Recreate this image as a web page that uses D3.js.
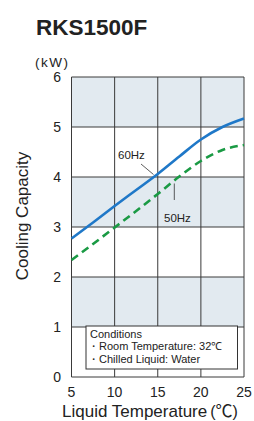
<!DOCTYPE html>
<html><head><meta charset="utf-8">
<script src="https://cdn.jsdelivr.net/npm/d3@7/dist/d3.min.js"></script>
<style>body{margin:0;background:#fff}svg{display:block}</style>
</head><body><svg id="c" width="254" height="421"></svg>
<script>
const title = "RKS1500F";
const unitLabel = "(kW)";
const xLabel = "Liquid Temperature";
const xUnit = "℃";
const yLabel = "Cooling Capacity";
const xTicks = [5, 10, 15, 20, 25];
const yTicks = [0, 1, 2, 3, 4, 5, 6];
const temps = [5, 7.5, 10, 12.5, 15, 17.5, 20, 22.5, 25];
const cap60 = [2.77, 3.09, 3.42, 3.74, 4.06, 4.41, 4.75, 5.0, 5.17];
const cap50 = [2.34, 2.66, 2.99, 3.32, 3.66, 4.01, 4.32, 4.54, 4.64];
const seriesNames = ["60Hz", "50Hz"];
const conditions = ["Conditions", "・Room Temperature: 32℃", "・Chilled Liquid: Water"];

const svg = d3.select("#c");
const x = d3.scaleLinear().domain([5, 25]).range([71.5, 244]);
const y = d3.scaleLinear().domain([0, 6]).range([377, 77]);
const font = "'Liberation Sans', Arial, sans-serif";
const cjk = "'Noto Sans CJK JP', sans-serif";

// bands
const bands = [[5,6],[3,4],[1,2]];
svg.selectAll("rect.band").data(bands).enter().append("rect")
  .attr("x", x(5)).attr("width", x(25)-x(5))
  .attr("y", d => y(d[1])).attr("height", d => y(d[0]) - y(d[1]))
  .attr("fill", "#e2eaf0");

// grid
svg.selectAll("line.h").data(yTicks).enter().append("line")
  .attr("x1", x(5)).attr("x2", x(25)).attr("y1", d => y(d)).attr("y2", d => y(d))
  .attr("stroke", "#3a3a3a").attr("stroke-width", 1);
svg.selectAll("line.v").data(xTicks).enter().append("line")
  .attr("y1", y(0)).attr("y2", y(6)).attr("x1", d => x(d)).attr("x2", d => x(d))
  .attr("stroke", "#3a3a3a").attr("stroke-width", 1);

// tick labels
svg.selectAll("text.yt").data(yTicks).enter().append("text")
  .attr("x", 61).attr("y", d => y(d) + 4.5).attr("text-anchor", "end")
  .attr("font-family", font).attr("font-size", 14).attr("fill", "#222").text(d => d);
svg.selectAll("text.xt").data(xTicks).enter().append("text")
  .attr("x", d => x(d)).attr("y", 397).attr("text-anchor", "middle")
  .attr("font-family", font).attr("font-size", 14).attr("fill", "#222").text(d => d);

// lines
const line = d3.line().x(d => x(d[0])).y(d => y(d[1])).curve(d3.curveMonotoneX);
svg.append("path").datum(temps.map((t,i)=>[t,cap50[i]])).attr("d", line)
  .attr("fill","none").attr("stroke","#1a9a44").attr("stroke-width",2.6)
  .attr("stroke-dasharray","8,5");
svg.append("path").datum(temps.map((t,i)=>[t,cap60[i]])).attr("d", line)
  .attr("fill","none").attr("stroke","#1f78c8").attr("stroke-width",2.6);

// series labels
svg.append("line").attr("x1",141).attr("y1",164).attr("x2",153.5).attr("y2",174.5).attr("stroke","#333").attr("stroke-width",0.8);
svg.append("text").attr("x",118).attr("y",158.5).attr("font-family",font).attr("font-size",11.5).attr("fill","#222").text(seriesNames[0]);
svg.append("line").attr("x1",174.3).attr("y1",183.5).attr("x2",174.3).attr("y2",200).attr("stroke","#333").attr("stroke-width",0.8);
svg.append("text").attr("x",164).attr("y",221.5).attr("font-family",font).attr("font-size",11.5).attr("fill","#222").text(seriesNames[1]);

// conditions box
svg.append("rect").attr("x",86).attr("y",326).attr("width",151.5).attr("height",43)
  .attr("fill","#fff").attr("stroke","#333").attr("stroke-width",1);
svg.selectAll("text.cond").data(conditions).enter().append("text")
  .attr("x", (d,i) => i === 0 ? 90 : 88).attr("y", (d,i) => 337.5 + i*12.5)
  .attr("font-family", font).attr("font-size", 11).attr("fill","#222").text(d => d);

// title & labels
svg.append("text").attr("x",36).attr("y",35).attr("font-family",font).attr("font-weight","bold")
  .attr("font-size",22.5).attr("fill","#222").text(title);
svg.append("text").attr("x",35).attr("y",67).attr("font-family",font).attr("font-size",13.5)
  .attr("letter-spacing",1.5).attr("fill","#222").text(unitLabel);
const xl = svg.append("text").attr("x",62).attr("y",417).attr("font-family",font).attr("font-size",17).attr("fill","#222");
xl.append("tspan").text(xLabel);
xl.append("tspan").attr("dx",3).attr("font-size",16).text("(");
xl.append("tspan").attr("font-family",cjk).attr("font-size",17).text(xUnit);
xl.append("tspan").attr("font-size",16).text(")");
svg.append("text").attr("transform","translate(27.5,216) rotate(-90)").attr("text-anchor","middle")
  .attr("font-family",font).attr("font-size",17).attr("fill","#222").text(yLabel);
</script></body></html>
